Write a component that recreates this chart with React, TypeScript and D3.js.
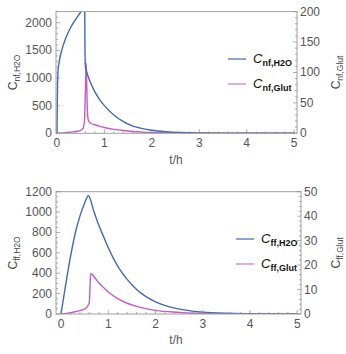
import * as d3 from "d3";
import * as React from "react";

// time grid (h) and concentrations
const tNfH2O = [0, 0.01, 0.02, 0.04, 0.1, 0.2, 0.3, 0.4, 0.5, 0.56, 0.585, 0.59, 0.6, 0.62, 0.7, 0.8, 0.9, 1.0, 1.2, 1.4, 1.6, 1.8, 2.0, 2.3, 2.6, 3.0, 3.5, 4.0, 5.0];
const nfH2O = [0, 700, 1100, 1250, 1500, 1750, 1930, 2070, 2190, 2280, 2300, 1600, 1200, 1130, 930, 750, 610, 500, 330, 210, 130, 85, 55, 28, 14, 6, 2, 1, 0];

const tNfGlut = [0, 0.1, 0.2, 0.3, 0.4, 0.5, 0.55, 0.58, 0.6, 0.615, 0.625, 0.64, 0.66, 0.7, 0.8, 0.9, 1.0, 1.2, 1.4, 1.6, 1.8, 2.0, 2.5, 3.0, 4.0, 5.0];
const nfGlut = [0, 0.5, 1, 2, 3, 5, 8, 20, 70, 115, 90, 40, 22, 17, 14, 11.5, 9.5, 6.5, 4.5, 3, 2, 1.4, 0.6, 0.3, 0.1, 0];

const tFfH2O = [0, 0.1, 0.2, 0.3, 0.4, 0.5, 0.58, 0.7, 0.8, 0.9, 1.0, 1.2, 1.4, 1.6, 1.8, 2.0, 2.3, 2.6, 3.0, 3.5, 4.0, 5.0];
const ffH2O = [0, 290, 560, 790, 960, 1090, 1160, 1000, 870, 760, 650, 470, 340, 240, 170, 120, 70, 40, 18, 7, 3, 0];

const tFfGlut = [0, 0.1, 0.2, 0.3, 0.4, 0.5, 0.55, 0.58, 0.6, 0.61, 0.62, 0.63, 0.7, 0.8, 0.9, 1.0, 1.2, 1.4, 1.6, 1.8, 2.0, 2.3, 2.6, 3.0, 3.5, 4.0, 5.0];
const ffGlut = [0, 0.2, 0.5, 0.9, 1.4, 2.1, 2.8, 3.8, 5, 9, 14, 16.6, 15.2, 12.8, 10.8, 9, 6.3, 4.4, 3.1, 2.2, 1.5, 0.9, 0.5, 0.25, 0.1, 0.05, 0];

const xTicks = [0, 1, 2, 3, 4, 5];
const nfLeftTicks = [0, 500, 1000, 1500, 2000];
const nfRightTicks = [0, 50, 100, 150, 200];
const ffLeftTicks = [0, 200, 400, 600, 800, 1000, 1200];
const ffRightTicks = [0, 10, 20, 30, 40, 50];

const BLUE = "#3f69b1";
const PINK = "#c25ec4";
const FONT = "'Liberation Sans', Arial, sans-serif";

interface PanelProps {
    id: string;
    box: { left: number, right: number, top: number, bottom: number };
    xDomain: [number, number];
    leftMax: number;
    rightMax: number;
    leftTicks: number[];
    rightTicks: number[];
    leftMinor: number;
    rightMinor: number;
    blue: { t: number[], v: number[] };
    pink: { t: number[], v: number[] };
    sub: string;
    legendX: number;
    legendY: number;
    xLabelY: number;
}

function Panel(p: PanelProps) {
    const { box } = p;
    const x = d3.scaleLinear().domain(p.xDomain).range([box.left, box.right]);
    const yL = d3.scaleLinear().domain([0, p.leftMax]).range([box.bottom, box.top]);
    const yR = d3.scaleLinear().domain([0, p.rightMax]).range([box.bottom, box.top]);

    const lineL = d3.line<number>().x((_, i) => x(p.blue.t[i])).y(d => yL(d)).curve(d3.curveMonotoneX);
    const lineR = d3.line<number>().x((_, i) => x(p.pink.t[i])).y(d => yR(d)).curve(d3.curveMonotoneX);

    const xMinor = d3.range(0, 5.01, 0.2);
    const lMinor = d3.range(0, p.leftMax + 0.01, p.leftMinor);
    const rMinor = d3.range(0, p.rightMax + 0.01, p.rightMinor);
    const tickCol = "#8a8a8a";
    const labCol = "#555";
    const midY = (box.top + box.bottom) / 2;

    return (
        <g>
            <defs>
                <clipPath id={p.id}>
                    <rect x={box.left} y={box.top} width={box.right - box.left} height={box.bottom - box.top} />
                </clipPath>
            </defs>
            <g clipPath={`url(#${p.id})`}>
                <path d={lineR(p.pink.v)!} fill="none" stroke={PINK} strokeWidth={1.4} />
                <path d={lineL(p.blue.v)!} fill="none" stroke={BLUE} strokeWidth={1.4} />
            </g>
            <rect x={box.left} y={box.top} width={box.right - box.left} height={box.bottom - box.top}
                fill="none" stroke="#a0a0a0" strokeWidth={1} />
            {xMinor.map((t, i) => (
                <line key={"xm" + i} x1={x(t)} x2={x(t)} y1={box.bottom} y2={box.bottom - (Math.abs(t - Math.round(t)) < 1e-6 ? 4 : 2)}
                    stroke={tickCol} strokeWidth={0.7} />
            ))}
            {lMinor.map((v, i) => (
                <line key={"lm" + i} x1={box.left} x2={box.left + (p.leftTicks.includes(Math.round(v)) ? 4 : 2)} y1={yL(v)} y2={yL(v)}
                    stroke={tickCol} strokeWidth={0.7} />
            ))}
            {rMinor.map((v, i) => (
                <line key={"rm" + i} x1={box.right} x2={box.right - (p.rightTicks.includes(Math.round(v)) ? 4 : 2)} y1={yR(v)} y2={yR(v)}
                    stroke={tickCol} strokeWidth={0.7} />
            ))}
            <g fontFamily={FONT} fontSize={12} fill={labCol}>
                {xTicks.map(t => (
                    <text key={"xt" + t} x={x(t)} y={box.bottom + 14} textAnchor="middle">{t}</text>
                ))}
                {p.leftTicks.map(v => (
                    <text key={"lt" + v} x={box.left - 4} y={yL(v) + 4} textAnchor="end">{v}</text>
                ))}
                {p.rightTicks.map(v => (
                    <text key={"rt" + v} x={box.right + 3} y={yR(v) + 4} textAnchor="start">{v}</text>
                ))}
                <text x={176} y={p.xLabelY} textAnchor="middle">t/h</text>
                <text transform={`translate(17,${midY}) rotate(-90)`} textAnchor="middle" fill="#444">
                    C<tspan fontSize={8.5} dy={3}>{p.sub},H2O</tspan>
                </text>
                <text transform={`translate(340,${midY}) rotate(-90)`} textAnchor="middle" fill="#444">
                    C<tspan fontSize={8.5} dy={3}>{p.sub},Glut</tspan>
                </text>
            </g>
            {[{ c: "#5b7fc2", s: "H2O" }, { c: "#d08bd2", s: "Glut" }].map((e, i) => (
                <g key={e.s}>
                    <line x1={p.legendX} x2={p.legendX + 18} y1={p.legendY + i * 25} y2={p.legendY + i * 25} stroke={e.c} strokeWidth={1.4} />
                    <text x={p.legendX + 25} y={p.legendY + i * 25 + 4} fontFamily={FONT} fontSize={13} fill="#111">
                        <tspan fontStyle="italic">C</tspan>
                        <tspan fontSize={9} fontWeight="bold" dy={3}>{p.sub},{e.s}</tspan>
                    </text>
                </g>
            ))}
        </g>
    );
}

export default function App() {
    return (
        <svg width={346} height={354} style={{ position: "absolute", left: 0, top: 0, background: "#fff" }}>
            <Panel id="clipNf" box={{ left: 56, right: 297, top: 11.6, bottom: 133.3 }} xDomain={[-0.02, 5.06]}
                leftMax={2200} rightMax={200} leftTicks={nfLeftTicks} rightTicks={nfRightTicks} leftMinor={100} rightMinor={10}
                blue={{ t: tNfH2O, v: nfH2O }} pink={{ t: tNfGlut, v: nfGlut }} sub="nf"
                legendX={228} legendY={59} xLabelY={164} />
            <Panel id="clipFf" box={{ left: 56, right: 301, top: 191.7, bottom: 314 }} xDomain={[-0.106, 5.08]}
                leftMax={1200} rightMax={50} leftTicks={ffLeftTicks} rightTicks={ffRightTicks} leftMinor={50} rightMinor={2}
                blue={{ t: tFfH2O, v: ffH2O }} pink={{ t: tFfGlut, v: ffGlut }} sub="ff"
                legendX={236} legendY={239} xLabelY={344} />
        </svg>
    );
}
